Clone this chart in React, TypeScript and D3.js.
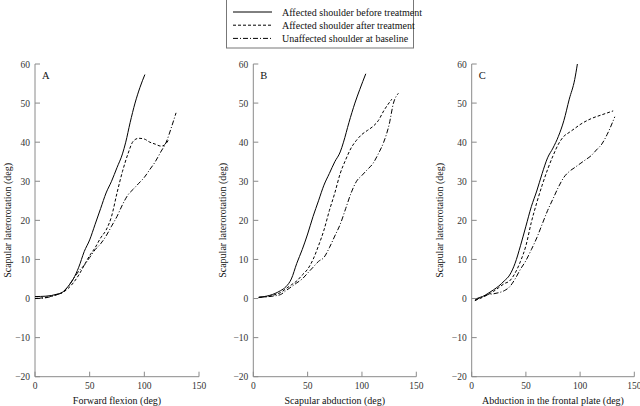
import React from "react";
import * as d3 from "d3";

type Pt = [number, number];

const yTicks = [-20, -10, 0, 10, 20, 30, 40, 50, 60];
const xTicks = [0, 50, 100, 150];
const panelLetters = ["A", "B", "C"];
const xTitles = ["Forward flexion (deg)", "Scapular abduction (deg)", "Abduction in the frontal plate (deg)"];
const yTitle = "Scapular laterorotation (deg)";
const seriesNames = [
  "Affected shoulder before treatment",
  "Affected shoulder after treatment",
  "Unaffected shoulder at baseline",
];

const beforeA: Pt[] = [[0,0.5],[10,0.6],[20,1.1],[25,1.6],[30,3],[35,5],[40,8],[45,12],[50,15],[55,19],[60,23],[65,27],[70,30],[75,33.5],[80,37],[83,40],[87,45],[91.5,50],[96,54],[100.5,57.3]];
const afterA: Pt[] = [[0,0],[10,0.3],[20,1],[25,1.5],[30,2.5],[35,4],[40,6],[45,8.5],[50,11],[55,13],[60,15.5],[65,17.5],[70,21],[75,27],[80,32.5],[85,37],[90,40.3],[95,41],[100,40.8],[105,40],[110,39.5],[115,39],[118,39.2],[122,40.5]];
const unaffA: Pt[] = [[0,0],[10,0.2],[20,1],[25,1.5],[30,3],[35,5],[40,7],[45,8.5],[50,10.5],[55,12.5],[60,14],[65,16],[70,18.5],[75,21],[80,24],[85,26.5],[90,28],[95,29.5],[100,31],[105,33],[110,35],[115,37.5],[120,40],[125,44],[129,47.5]];

const beforeB: Pt[] = [[5,0.3],[10,0.5],[15,0.8],[20,1.3],[25,2],[30,3],[35,5],[40,9],[45,12.5],[50,16.5],[55,21],[60,25],[65,29],[70,32],[75,35],[80,37.5],[83,40],[88,45],[93.5,50],[98,53.5],[103.5,57.5]];
const afterB: Pt[] = [[5,0.3],[10,0.4],[15,0.6],[20,1],[25,1.5],[30,2.5],[35,3.5],[40,4.5],[45,6],[50,7.5],[55,10],[60,13.5],[65,17.5],[70,22.5],[75,27],[80,32],[85,35.5],[90,38.5],[95,40.5],[100,42],[105,43],[110,44],[115,45.5],[120,48],[127.5,51]];
const unaffB: Pt[] = [[5,0.3],[10,0.4],[20,0.7],[25,1],[30,2],[35,3],[40,4],[45,5],[50,6.5],[55,8],[60,9.5],[65,10.5],[70,13],[75,16],[80,19],[85,23],[90,27],[95,30],[100,31.5],[105,33],[110,34.5],[115,37],[120,40],[125,44.5],[129,50],[133.5,52.5]];

const beforeC: Pt[] = [[3,-0.5],[5,0],[10,0.5],[15,1.3],[20,2.2],[25,3.2],[30,4.5],[35,6],[40,9],[45,13.5],[50,18.5],[55,23.5],[60,27.5],[65,32],[70,36],[75,38.5],[80,41.5],[85,45.5],[90,51],[95,56],[97.5,60]];
const afterC: Pt[] = [[3,-0.5],[10,0.3],[15,1],[20,1.8],[25,2.8],[30,3.8],[35,4.5],[40,6.5],[45,9.5],[50,13.5],[55,19.5],[60,24.5],[65,29],[70,33],[75,36.5],[80,39.5],[85,41.5],[90,42.5],[95,43.5],[100,44.5],[110,46],[120,47],[130.5,48]];
const unaffC: Pt[] = [[3,-0.5],[10,0.5],[15,1],[20,1.2],[25,1.5],[30,2],[35,3],[40,5],[45,7.5],[50,9.7],[55,12.5],[60,15.5],[65,19],[70,22.5],[75,25.5],[80,28.5],[85,31],[90,32.5],[95,33.5],[100,34.5],[105,35.5],[110,36.5],[115,38],[120,39.5],[125,42],[132,46.5]];

const panelsData: Pt[][][] = [
  [beforeA, afterA, unaffA],
  [beforeB, afterB, unaffB],
  [beforeC, afterC, unaffC],
];

const dashes = [undefined, "3,2", "5,2,1,2"];
const FONT = "'Liberation Serif', 'Times New Roman', serif";
const axisColor = "#8a8a8a";
const textColor = "#333";

const panelX: [number, number][] = [[35, 199], [253.3, 416.3], [471.7, 634.3]];
const titleX = [11, 226, 443];
const yScale = d3.scaleLinear().domain([-20, 60]).range([376.7, 64]);

export default function App() {
  return (
    <svg width={640} height={406} style={{ position: "absolute", left: 0, top: 0, background: "#fff" }} fontFamily={FONT}>
      <rect width={640} height={406} fill="#fff" />
      <g>
        <rect x={226.5} y={-1} width={187} height={49} fill="#fff" stroke="#777" strokeWidth={1} />
        {seriesNames.map((n, i) => (
          <g key={n}>
            <line x1={233} x2={272} y1={12 + i * 13.2} y2={12 + i * 13.2} stroke="#000" strokeWidth={1} strokeDasharray={dashes[i]} />
            <text x={282} y={15.5 + i * 13.2} fontSize={10} fill="#111">{n}</text>
          </g>
        ))}
      </g>
      {panelsData.map((series, pi) => {
        const [x0, x1] = panelX[pi];
        const xScale = d3.scaleLinear().domain([0, 150]).range([x0, x1]);
        const line = d3.line<Pt>().x((d) => xScale(d[0])).y((d) => yScale(d[1])).curve(d3.curveMonotoneX);
        const y0 = yScale(-20);
        return (
          <g key={pi}>
            <line x1={x0} x2={x0} y1={yScale(60)} y2={y0} stroke={axisColor} strokeWidth={1} />
            <line x1={x0} x2={x1} y1={y0} y2={y0} stroke={axisColor} strokeWidth={1} />
            {yTicks.map((t) => (
              <g key={t}>
                <line x1={x0} x2={x0 + 5} y1={yScale(t)} y2={yScale(t)} stroke={axisColor} strokeWidth={1} />
                <text x={x0 - 5} y={yScale(t) + 3.5} fontSize={9.5} textAnchor="end" fill={textColor}>
                  {t < 0 ? "\u2212" + Math.abs(t) : t}
                </text>
              </g>
            ))}
            {xTicks.map((t) => (
              <g key={t}>
                <line x1={xScale(t)} x2={xScale(t)} y1={y0} y2={y0 - 5} stroke={axisColor} strokeWidth={1} />
                <text x={xScale(t)} y={y0 + 12} fontSize={9.5} textAnchor="middle" fill={textColor}>{t}</text>
              </g>
            ))}
            <text x={x0 + 7} y={79} fontSize={10.5} fill="#111">{panelLetters[pi]}</text>
            <text x={(x0 + x1) / 2} y={404} fontSize={10} textAnchor="middle" fill="#111">{xTitles[pi]}</text>
            <text transform={`translate(${titleX[pi]},${(yScale(60) + y0) / 2}) rotate(-90)`} fontSize={10} textAnchor="middle" fill="#111">{yTitle}</text>
            {series.map((s, si) => (
              <path key={si} d={line(s) || ""} fill="none" stroke="#000" strokeWidth={1} strokeDasharray={dashes[si]} />
            ))}
          </g>
        );
      })}
    </svg>
  );
}
